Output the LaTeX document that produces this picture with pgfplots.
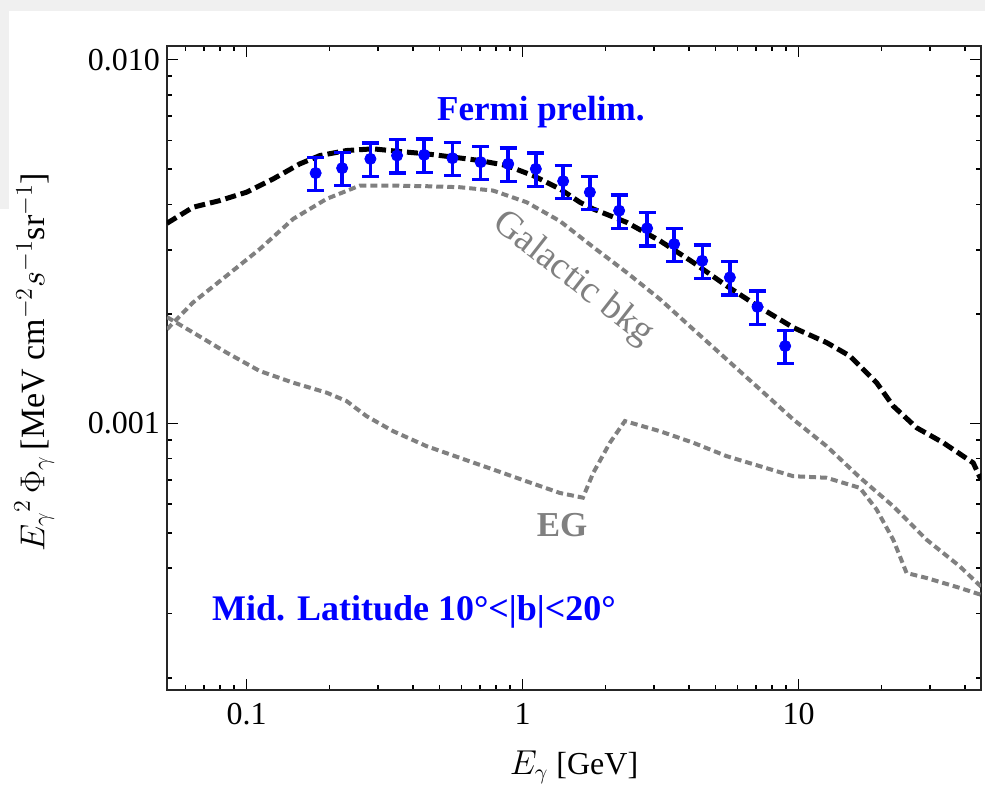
\documentclass[border=0pt]{standalone}
\usepackage{pgfplots}
\pgfplotsset{compat=1.18}
\usepackage{fontspec}
\setmainfont{Liberation Serif}
\definecolor{fermiblue}{RGB}{0,0,255}
\definecolor{bkggray}{RGB}{128,128,128}
\definecolor{bggray}{RGB}{240,240,240}
\begin{document}
\begin{tikzpicture}
\path[use as bounding box] (0,0) rectangle (492.5pt,394.5pt);
\fill[bggray] (0,389pt) rectangle (492.5pt,394.5pt);
\fill[bggray] (0,290pt) rectangle (4.5pt,394.5pt);
\begin{axis}[
  at={(83.5pt,49.5pt)}, anchor=south west,
  width=407pt, height=322pt, scale only axis,
  xmode=log, ymode=log,
  xmin=0.0515, xmax=45.8, ymin=1.85e-4, ymax=1.09e-2,
  xtick={0.1,1,10}, xticklabels={0.1,1,10},
  minor xtick={0.06,0.07,0.08,0.09,0.2,0.3,0.4,0.5,0.6,0.7,0.8,0.9,2,3,4,5,6,7,8,9,20,30,40},
  ytick={0.001,0.01}, yticklabels={0.001,0.010},
  minor ytick={0.0002,0.0003,0.0004,0.0005,0.0006,0.0007,0.0008,0.0009,0.002,0.003,0.004,0.005,0.006,0.007,0.008,0.009},
  tick align=inside,
  major tick length=5.5pt, minor tick length=2.5pt,
  every tick/.style={line width=0.8pt, black},
  axis line style={line width=1pt, black!85},
  every tick label/.append style={font=\fontsize{16}{19}\selectfont},
  xticklabel style={yshift=-3pt},
  xlabel style={font=\fontsize{16}{19}\selectfont, at={(axis description cs:0.5,-0.12)}, anchor=center},
  ylabel style={font=\fontsize{17}{20}\selectfont, at={(axis description cs:-0.163,0.509)}, anchor=center},
  xlabel={${E_\gamma}$ [GeV]},
  ylabel={${E_\gamma}^{2}\,\Phi_\gamma\,$[MeV cm$^{-2}s^{-1}$sr$^{-1}$]},
]
% EG
\addplot[bkggray, line width=2pt, dash pattern=on 3.5pt off 2pt] coordinates {
(0.0515,0.00196) (0.0640,0.001778) (0.0846,0.001566) (0.1117,0.001393)
(0.1475,0.001294) (0.195,0.001215) (0.2303,0.001152) (0.2721,0.001047)
(0.3398,0.000952) (0.4489,0.000866) (0.5927,0.000804) (0.7825,0.000747)
(1.034,0.000693) (1.365,0.000644) (1.654,0.000625) (1.803,0.000731)
(2.072,0.000885) (2.348,0.001015) (3.144,0.000952) (4.151,0.000885)
(5.483,0.000813) (7.240,0.000763) (9.559,0.000716) (12.63,0.000709)
(16.68,0.000665) (19.17,0.00058) (22.02,0.000479) (24.62,0.000388)
(29.09,0.000376) (38.4,0.000353) (45.8,0.000338)
};
% Galactic bkg
\addplot[bkggray, line width=2pt, dash pattern=on 3.5pt off 2pt] coordinates {
(0.0515,0.001815) (0.0640,0.00215) (0.0846,0.002545) (0.1117,0.003015)
(0.1475,0.003648) (0.195,0.004142) (0.2573,0.004505) (0.3398,0.004505)
(0.4489,0.004488) (0.5927,0.004459) (0.7825,0.004365) (1.034,0.004055)
(1.365,0.0036) (1.803,0.003053) (2.381,0.002601) (3.144,0.002196)
(4.151,0.001815) (5.483,0.001501) (7.240,0.001241) (9.559,0.001026)
(12.63,0.000866) (16.68,0.00071) (22.02,0.000592) (29.09,0.000479)
(38.4,0.0004045) (45.8,0.000356)
};
% total
\addplot[black, line width=2.5pt, dash pattern=on 5.5pt off 2.5pt] coordinates {
(0.0515,0.00355) (0.0640,0.003929) (0.0800,0.004098) (0.1000,0.004321)
(0.1249,0.00470) (0.156,0.00517) (0.1844,0.005449) (0.2303,0.005625)
(0.2875,0.005686) (0.3593,0.00559) (0.4489,0.005508) (0.5605,0.005395)
(0.700,0.00528) (0.875,0.005115) (1.092,0.0048) (1.365,0.004412)
(1.613,0.004055) (1.803,0.003886) (2.381,0.003572) (3.144,0.003178)
(4.151,0.002771) (5.483,0.002389) (7.240,0.002083) (9.559,0.001835)
(12.63,0.001668) (15.35,0.001532) (19.17,0.001294) (22.02,0.001116)
(26.77,0.000973) (33.42,0.000885) (42.92,0.000779) (45.8,0.000701)
};
% Fermi data
\addplot[fermiblue, only marks, mark=*, mark size=2.8pt,
  error bars/.cd, y dir=both, y fixed relative=0.105,
  error bar style={line width=1.7pt, fermiblue},
  error mark options={rotate=90, line width=1.7pt, mark size=4.25pt, fermiblue}] coordinates {
(0.178,0.004877) (0.222,0.005032) (0.281,0.005336) (0.351,0.005449)
(0.440,0.005473) (0.557,0.005359) (0.705,0.005226) (0.887,0.005170)
(1.117,0.005008) (1.403,0.004635) (1.753,0.004320) (2.238,0.003844)
(2.826,0.003439) (3.542,0.003112) (4.475,0.002799) (5.636,0.002520)
(7.10,0.002091) (8.94,0.001632)
};
\node[fermiblue, font=\fontsize{17.5}{20}\selectfont\bfseries] at (axis cs:1.165,0.00719) {Fermi prelim.};
\node[fermiblue, font=\fontsize{18}{20}\selectfont\bfseries] at (axis cs:0.404,0.000303) {Mid. Latitude 10°<|b|<20°};
\node[bkggray, rotate=-38, font=\fontsize{19}{21}\selectfont] at (axis cs:1.521,0.002493) {Galactic bkg};
\node[bkggray, font=\fontsize{17.5}{20}\selectfont\bfseries] at (axis cs:1.39,0.000527) {EG};
\end{axis}
\end{tikzpicture}
\end{document}
